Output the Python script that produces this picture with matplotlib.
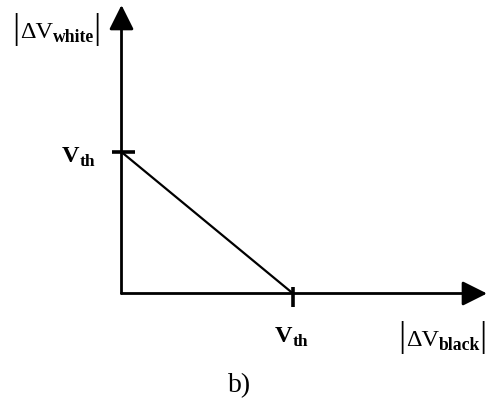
import matplotlib
matplotlib.use("Agg")
import matplotlib.pyplot as plt

plt.rcParams['font.family'] = 'Liberation Serif'

# threshold characteristic: |dV_white| falls linearly to 0 at |dV_black| = Vth
vth = 1.0
line_x = [0.0, vth]
line_y = [vth, 0.0]
x_max = 2.131
y_max = 2.039

W, H = 488, 401
fig = plt.figure(figsize=(W / 100, H / 100), dpi=100)

# main axes: origin of the diagram at pixel (121.5, 293.5)
ox, oy = 121.5, 293.5
ax = fig.add_axes([ox / W, (H - oy) / H, (487 - ox) / W, (oy - 5) / H])
ax.set_xlim(0, x_max)
ax.set_ylim(0, y_max)
ax.axis('off')

arrow = dict(arrowstyle='-|>,head_length=1.5,head_width=0.75', color='black', lw=2.0,
             shrinkA=0, shrinkB=0)
ax.annotate('', xy=(x_max, 0), xytext=(0, 0), arrowprops=arrow, annotation_clip=False)
ax.annotate('', xy=(0, y_max), xytext=(0, 0), arrowprops=arrow, annotation_clip=False)

ax.plot(line_x, line_y, color='black', lw=1.6, clip_on=False)

# tick marks at Vth
ax.plot([-0.055, 0.079], [vth, vth], color='black', lw=2.6, clip_on=False, solid_capstyle='butt')
ax.plot([vth, vth], [-0.095, 0.046], color='black', lw=2.6, clip_on=False, solid_capstyle='butt')

# overlay in pixel coordinates for the labels
ov = fig.add_axes([0, 0, 1, 1])
ov.set_xlim(0, W)
ov.set_ylim(H, 0)
ov.axis('off')

main_fs, sub_fs, bar_fs = 17.5, 12.7, 26
vth_fs, vth_sub_fs = 17.5, 12.5


def abs_label(x0, base, sub, x_sub, x_bar1, x_bar2):
    ov.text(x_bar1, base, '|', fontsize=bar_fs, ha='center', va='baseline')
    ov.text(x0, base, '\u0394V', fontsize=main_fs, ha='left', va='baseline')
    ov.text(x_sub, base + 4.5, sub, fontsize=sub_fs, fontweight='bold', ha='left', va='baseline')
    ov.text(x_bar2, base, '|', fontsize=bar_fs, ha='center', va='baseline')


def vth_label(x0, base):
    ov.text(x0, base, 'V', fontsize=vth_fs, fontweight='bold', ha='left', va='baseline')
    ov.text(x0 + 18, base + 4, 'th', fontsize=vth_sub_fs, fontweight='bold', ha='left', va='baseline')


abs_label(20, 38, 'white', 52.5, 15.5, 97)
abs_label(406, 346, 'black', 438.5, 401.5, 483)
vth_label(62, 162)
vth_label(275, 342)
ov.text(240, 392, 'b)', fontsize=20, ha='center', va='baseline')

fig.savefig('out.png', dpi=100)
